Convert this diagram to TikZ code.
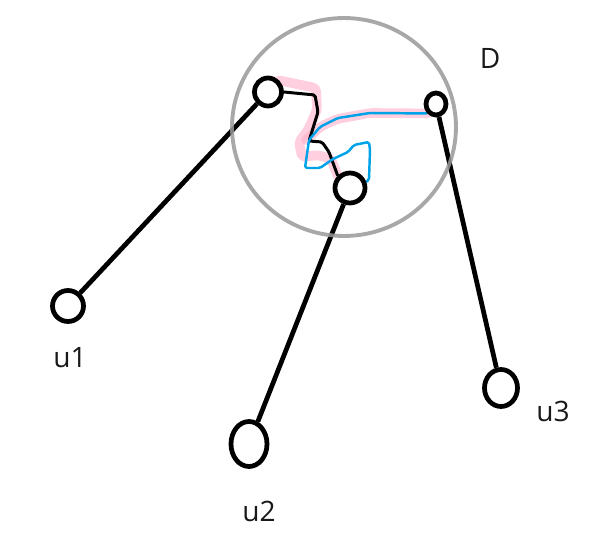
\documentclass[tikz,border=0pt]{standalone}
\usepackage{fontspec}
\setmainfont{Open Sans}
\usetikzlibrary{shapes.geometric,backgrounds}
\definecolor{inkblue}{RGB}{0,162,232}
\definecolor{hlpink}{RGB}{255,174,201}
\tikzset{
  vtx/.style={ellipse,draw=black,line width=2.7pt,fill=white,inner sep=0pt},
  edg/.style={line width=2.7pt,black},
  disk/.style={draw=black!40,line width=2.2pt,opacity=.85},
  walk/.style={line width=1.7pt,black,rounded corners=1pt,line join=round},
  glow/.style={line width=5.5pt,hlpink,opacity=.6,line cap=round,line join=round,rounded corners=2pt},
  pen/.style={line width=1.4pt,inkblue,line join=round,rounded corners=1pt},
  lbl/.style={font=\fontsize{16}{19}\selectfont,text=black!90,inner sep=0pt},
}
\begin{document}
\begin{tikzpicture}[x=0.02cm,y=-0.02cm]
  \useasboundingbox (0,0) rectangle (603,533);
  % the disk
  \draw[disk] (344,127) ellipse[x radius=2.24cm,y radius=2.18cm];
  \node[lbl] (lD) at (490,58) {D};
  % vertices
  \node[vtx,minimum width=.54cm,minimum height=.56cm] (d1) at (268,92) {};
  \node[vtx,minimum width=.60cm,minimum height=.60cm] (d2) at (350,188) {};
  \node[vtx,minimum width=.40cm,minimum height=.44cm] (d3) at (436,104) {};
  \node[vtx,minimum width=.62cm,minimum height=.62cm] (u1) at (68,306) {};
  \node[vtx,minimum width=.72cm,minimum height=.90cm] (u2) at (249,444) {};
  \node[vtx,minimum width=.66cm,minimum height=.74cm] (u3) at (501,388) {};
  \node[lbl] (lu1) at (70,358) {u1};
  \node[lbl] (lu2) at (259,511) {u2};
  \node[lbl] (lu3) at (553,411) {u3};
  \begin{scope}[on background layer]
  % highlight
  \draw[glow] (d1.north east) -- (316,88) -- (317,110) -- (308,130) -- (299,142)
        -- (302,157) -- (318,155) -- (331,159) -- (d2.north west);
  \draw[glow] (306,140) -- (320,127) -- (337,119) -- (370,113) -- (d3.south west);
  % edges
  \draw[edg] (u1) -- (d1);
  \draw[edg] (u2) -- (d2);
  \draw[edg] (u3) -- (d3);
  \draw[walk] (d1.east) -- (315,95) -- (318,112) -- (309,141) -- (322,142)
        -- (329,152) -- (d2.north west);
  \draw[pen] (d3.south west) -- (370,113) -- (338,118) -- (320,127) -- (309,140)
        -- (305,168) -- (320,168) -- (333,159) -- (348,152) -- (354,145)
        -- (369,142) -- (370,150) -- (369,180) -- (366,182);
  \end{scope}
\end{tikzpicture}
\end{document}
